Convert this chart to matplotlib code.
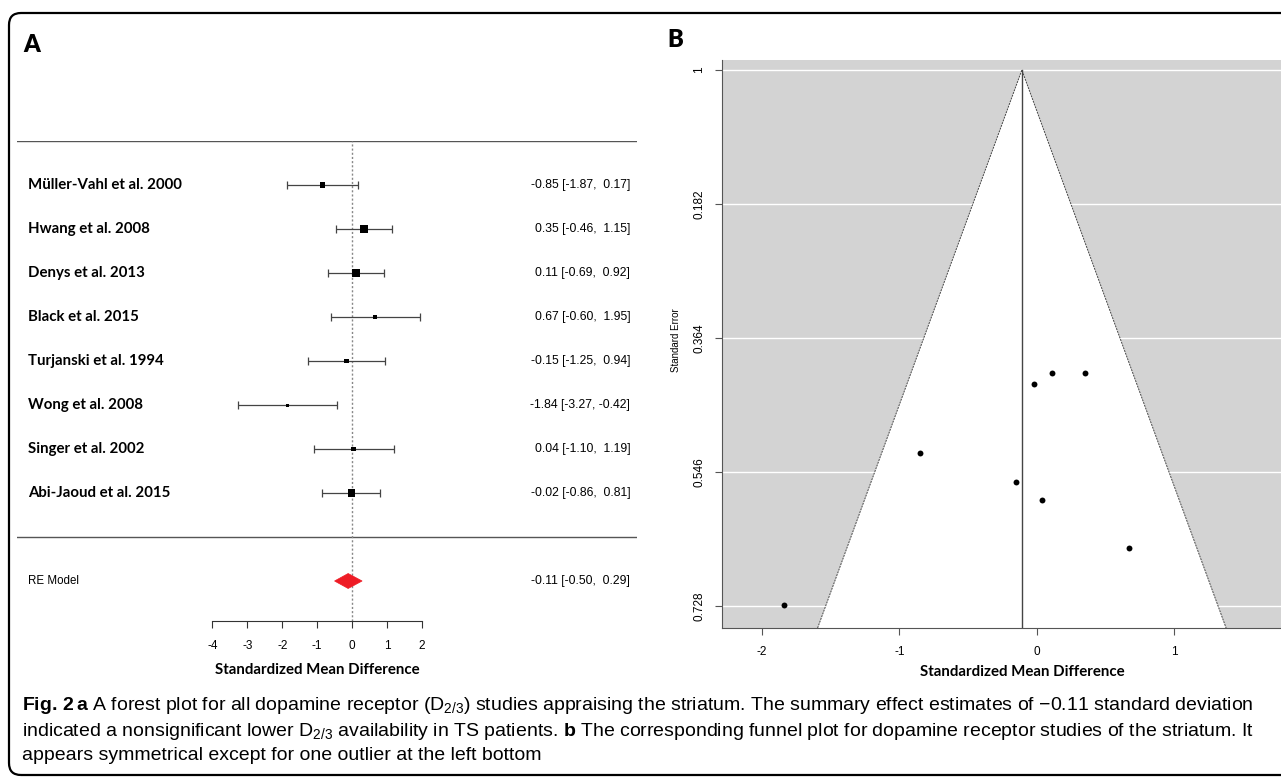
import numpy as np
import matplotlib
matplotlib.use('Agg')
import matplotlib.pyplot as plt
from matplotlib.patches import Polygon, FancyBboxPatch
from matplotlib import font_manager

# fonts: narrow sans for numbers and caption, Lato bold in place of Calibri
names = {f.name for f in font_manager.fontManager.ttflist}
narrow = 'Liberation Sans Narrow' if 'Liberation Sans Narrow' in names else 'Liberation Sans'
plt.rcParams['axes.unicode_minus'] = False
plt.rcParams['mathtext.fontset'] = 'custom'
plt.rcParams['mathtext.rm'] = narrow
plt.rcParams['mathtext.bf'] = narrow + ':bold'
plt.rcParams['mathtext.it'] = narrow + ':italic'

# data
studies = ['Müller-Vahl et al. 2000', 'Hwang et al. 2008', 'Denys et al. 2013',
           'Black et al. 2015', 'Turjanski et al. 1994', 'Wong et al. 2008',
           'Singer et al. 2002', 'Abi-Jaoud et al. 2015']
smd = [-0.85, 0.35, 0.11, 0.67, -0.15, -1.84, 0.04, -0.02]
ci_lo = [-1.87, -0.46, -0.69, -0.60, -1.25, -3.27, -1.10, -0.86]
ci_hi = [0.17, 1.15, 0.92, 1.95, 0.94, -0.42, 1.19, 0.81]
se = [0.520, 0.411, 0.411, 0.650, 0.559, 0.727, 0.584, 0.426]
re_est, re_lo, re_hi = -0.11, -0.50, 0.29
forest_ticks = [-4, -3, -2, -1, 0, 1, 2]
funnel_xticks = [-2, -1, 0, 1]
funnel_yticks = [0, 0.182, 0.364, 0.546, 0.728]
funnel_ylabels = ['1', '0.182', '0.364', '0.546', '0.728']

smd = np.array(smd)
ci_lo = np.array(ci_lo)
ci_hi = np.array(ci_hi)
se = np.array(se)

W, H = 1281, 782
def fx(px):
    return px / W
def fy(py):
    return 1 - py / H

fig = plt.figure(figsize=(W / 100, H / 100), dpi=100)

# rounded frame around the whole figure (runs off the right edge)
frame = FancyBboxPatch((0.09, 0.07), 13.2, 7.62,
                       boxstyle='round,pad=0,rounding_size=0.12',
                       transform=fig.dpi_scale_trans, fill=False,
                       ec='black', lw=1.6, clip_on=False)
fig.add_artist(frame)

fig.text(fx(23), fy(45), 'A', fontsize=17, fontweight='heavy', family='Lato', va='center')
fig.text(fx(667), fy(40), 'B', fontsize=17, fontweight='heavy', family='Lato', va='center')

# ---------------- panel A: forest plot ----------------
px0 = 352.0      # pixel of SMD = 0
ppu = 34.9       # pixels per SMD unit
axA = fig.add_axes([fx(17), fy(625), 620 / W, 484 / H])
axA.set_xlim((17 - px0) / ppu, (637 - px0) / ppu)
axA.set_ylim(-2, 9)
for s in ['top', 'left', 'right']:
    axA.spines[s].set_visible(False)
axis_y = -1.9
axA.spines['bottom'].set_position(('data', axis_y))
axA.spines['bottom'].set_bounds(forest_ticks[0], forest_ticks[-1])
axA.spines['bottom'].set_color('#333333')
axA.set_xticks(forest_ticks)
axA.set_xticklabels([str(t) for t in forest_ticks], family='Liberation Sans')
axA.tick_params(axis='x', direction='out', length=5, width=0.8, color='#333333',
                labelsize=8.5, pad=9)
axA.set_yticks([])

rows = np.arange(len(studies), 0, -1)
axA.axhline(len(studies) + 1, color='#555555', lw=1)
axA.axhline(0, color='#555555', lw=1)
axA.plot([0, 0], [axis_y, len(studies) + 1], color='#888888', lw=1, ls=(0, (1.5, 1.5)))

axA.errorbar(smd, rows, xerr=[smd - ci_lo, ci_hi - smd], fmt='none',
             ecolor='#444444', elinewidth=0.9, capsize=3, capthick=0.9)
# box size follows the study precision
w = 1 / se
box_px = 3 + (w - w.min()) / (w.max() - w.min()) * 5
axA.scatter(smd, rows, marker='s', s=(box_px * 0.72) ** 2, color='black', zorder=5, lw=0)

trA = axA.get_yaxis_transform()
for name, r, m, lo, hi in zip(studies, rows, smd, ci_lo, ci_hi):
    axA.text(0.0177, r, name, transform=trA, family='Lato', fontweight='bold',
             fontsize=10.8, va='center', ha='left')
    axA.text(0.989, r, f'{m:.2f} [{lo:.2f}, {hi:5.2f}]', transform=trA,
             family=narrow, fontsize=8.8, va='center', ha='right')

diamond = Polygon([(re_lo, -1), (re_est, -0.83), (re_hi, -1), (re_est, -1.17)],
                  closed=True, fc='#ee1c25', ec='#ee1c25', lw=0.5, zorder=5)
axA.add_patch(diamond)
axA.text(0.0177, -1, 'RE Model', transform=trA, family=narrow, fontsize=8.3,
         va='center', ha='left')
axA.text(0.989, -1, f'{re_est:.2f} [{re_lo:.2f}, {re_hi:5.2f}]', transform=trA,
         family=narrow, fontsize=8.8, va='center', ha='right')
axA.text(-1, -3.02, 'Standardized Mean Difference', family='Lato', fontweight='bold',
         fontsize=10.8, ha='center', va='center', clip_on=False)

# ---------------- panel B: funnel plot ----------------
axB = fig.add_axes([fx(722), fy(628), (1322 - 722) / W, (628 - 60) / H])
axB.set_facecolor('#d3d3d3')
xl = (-2.291, 2.073)
ymax = 0.758
axB.set_xlim(*xl)
axB.set_ylim(ymax, -0.0136)
for t in funnel_yticks:
    axB.axhline(t, color='white', lw=1, zorder=1)
funnel = Polygon([(re_est - 1.96 * ymax, ymax), (re_est, 0), (re_est + 1.96 * ymax, ymax)],
                 closed=True, fc='white', ec='none', zorder=2)
axB.add_patch(funnel)
axB.plot([re_est - 1.96 * ymax, re_est, re_est + 1.96 * ymax], [ymax, 0, ymax],
         color='#444444', lw=0.7, ls=(0, (2, 1)), zorder=3)
axB.plot([re_est, re_est], [0, ymax], color='#444444', lw=1, zorder=3)
axB.scatter(smd, se, s=18, color='black', zorder=5, lw=0)

for s in ['top', 'right']:
    axB.spines[s].set_visible(False)
for s in ['left', 'bottom']:
    axB.spines[s].set_color('#555555')
axB.set_xticks(funnel_xticks)
axB.set_xticklabels([str(t) for t in funnel_xticks], family='Liberation Sans')
axB.set_yticks(funnel_yticks)
axB.set_yticklabels(funnel_ylabels, family='Liberation Sans', rotation=90, va='center')
axB.tick_params(direction='out', length=5, width=0.8, color='#555555', labelsize=8.5)
axB.tick_params(axis='x', pad=8)
axB.tick_params(axis='y', pad=7)
axB.text(0.5, -0.0775, 'Standardized Mean Difference', transform=axB.transAxes,
         family='Lato', fontweight='bold', fontsize=10.8, ha='center', va='center')
axB.text(-0.0767, 0.507, 'Standard Error', transform=axB.transAxes, rotation=90,
         family='Liberation Sans', fontsize=7, ha='center', va='center')

# ---------------- caption ----------------
cap = [
    r'$\mathbf{Fig.\,2\,a}$ A forest plot for all dopamine receptor ($\mathrm{D}_{\mathrm{2/3}}$) '
    'studies appraising the striatum. The summary effect estimates of \u22120.11 standard deviation',
    r'indicated a nonsignificant lower $\mathrm{D}_{\mathrm{2/3}}$ availability in TS patients. '
    r'$\mathbf{b}$ The corresponding funnel plot for dopamine receptor studies of the striatum. It',
    'appears symmetrical except for one outlier at the left bottom',
]
for i, line in enumerate(cap):
    fig.text(fx(22), fy(706 + 25 * i), line, family=narrow, fontsize=14, va='center', ha='left')

plt.savefig('out.png', dpi=100)
